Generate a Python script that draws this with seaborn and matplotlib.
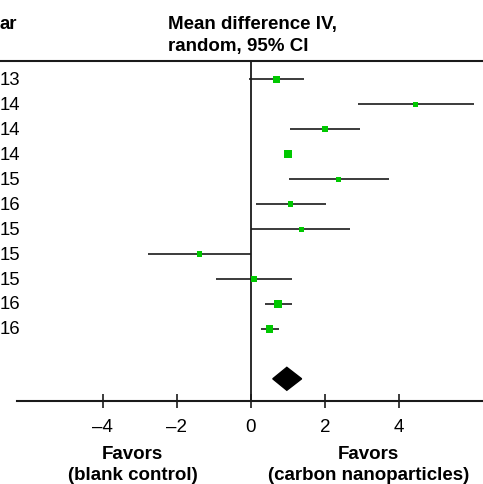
import matplotlib
matplotlib.use("Agg")
import matplotlib.pyplot as plt
import matplotlib.transforms as mtransforms
from matplotlib.lines import Line2D
import seaborn as sns
import pandas as pd

# ---- data ----
# year column is cropped at the left edge in the reference: only the last digits show
year_labels = ["13", "14", "14", "14", "15", "16", "15", "15", "15", "16", "16"]
year_header = "ar"
mean_diff = [0.69, 4.45, 2.01, 1.00, 2.36, 1.07, 1.36, -1.39, 0.08, 0.74, 0.50]
ci_low = [-0.05, 2.89, 1.06, 0.92, 1.02, 0.13, 0.00, -2.79, -0.95, 0.38, 0.26]
ci_high = [1.43, 6.03, 2.95, 1.08, 3.73, 2.02, 2.68, -0.01, 1.12, 1.12, 0.75]
weights = [10.0, 8.0, 10.0, 14.0, 8.0, 8.5, 8.0, 8.0, 9.5, 13.5, 13.5]
pooled_mean = 0.97
pooled_low = 0.59
pooled_high = 1.37
xticks = [-4, -2, 0, 2, 4]

W, H = 483, 485
sns.set_theme(style="white")
plt.rcParams["font.family"] = ["Liberation Sans", "DejaVu Sans"]

fig = plt.figure(figsize=(W / 100, H / 100), dpi=100)
ax = fig.add_axes([17 / W, (H - 402) / H, 1 - 17 / W, (402 - 62) / H])

df = pd.DataFrame({"row": range(len(year_labels)), "md": mean_diff, "lo": ci_low,
                   "hi": ci_high, "w": weights})

line_col = "#1a1a1a"
txt_col = "#000000"
ax.hlines(df["row"], df["lo"], df["hi"], color=line_col, lw=1.2, zorder=2)
sns.scatterplot(data=df, x="md", y="row", size="w", sizes=(14, 32), marker="s",
                color="#00c800", edgecolor="none", legend=False, ax=ax, zorder=3)

# pooled diamond
prow = len(year_labels) + 1
ax.fill([pooled_low, pooled_mean, pooled_high, pooled_mean],
        [prow, prow - 0.46, prow, prow + 0.46], color="black", zorder=3)

ax.axvline(0, color=line_col, lw=1.3, zorder=1)

ax.set_xlim(-6.32, 6.27)
ax.set_ylim(12.89, -0.74)
ax.set_xticks(xticks)
ax.set_xticklabels(["\u2013" + str(abs(t)) if t < 0 else str(t) for t in xticks],
                   fontsize=13.5)
ax.set_yticks([])
ax.set_xlabel("")
ax.set_ylabel("")
for s in ["top", "left", "right"]:
    ax.spines[s].set_visible(False)
ax.spines["bottom"].set_color(line_col)
ax.spines["bottom"].set_linewidth(1.5)
ax.tick_params(axis="x", direction="inout", length=10, width=1.2, color=line_col,
               pad=7, labelcolor=txt_col, bottom=True)

# top rule across the figure
fig.add_artist(Line2D([0, 1], [(H - 62) / H, (H - 62) / H], color=line_col, lw=1.5,
                      transform=fig.transFigure))

# year labels
trans = mtransforms.blended_transform_factory(fig.transFigure, ax.transData)
for i, y in enumerate(year_labels):
    ax.text(0.0, i, y, transform=trans, ha="left", va="center", fontsize=13.3,
            color=txt_col, clip_on=False)

fig.text(0.0, (H - 24.5) / H, year_header, ha="left", va="center", fontsize=13.3,
         fontweight="bold", color=txt_col)
fig.text(168 / W, (H - 35.5) / H, "Mean difference IV,\nrandom, 95% CI", ha="left",
         va="center", fontsize=13.5, fontweight="bold", color=txt_col, linespacing=1.45)

# favors labels
trans2 = mtransforms.blended_transform_factory(ax.transData, fig.transFigure)
ax.text(-3.19, (H - 465) / H, "Favors\n(blank control)", transform=trans2, ha="center",
        va="center", fontsize=13.5, fontweight="bold", color=txt_col, linespacing=1.35,
        clip_on=False)
ax.text(3.18, (H - 465) / H, "Favors\n(carbon nanoparticles)", transform=trans2,
        ha="center", va="center", fontsize=13.5, fontweight="bold", color=txt_col,
        linespacing=1.35, clip_on=False)

fig.savefig("out.png", dpi=100)
